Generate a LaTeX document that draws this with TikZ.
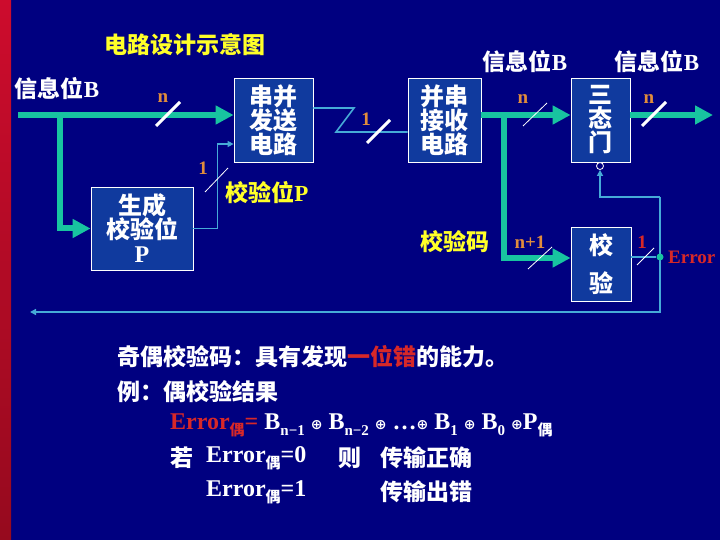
\documentclass[tikz,border=0pt]{standalone}
\usepackage{fontspec}
\setmainfont{Noto Sans CJK SC}
\newfontfamily\cjkf{Noto Sans CJK SC}
\newfontfamily\lat{Liberation Serif}
\newfontfamily\symf{DejaVu Sans}
\usetikzlibrary{arrows.meta,calc}
\definecolor{navy}{RGB}{0,0,128}
\definecolor{boxblue}{RGB}{16,58,158}
\definecolor{gline}{RGB}{24,196,160}
\definecolor{tcol}{RGB}{70,170,215}
\definecolor{orangelbl}{RGB}{225,140,60}
\definecolor{yel}{RGB}{255,255,40}
\definecolor{errred}{RGB}{215,40,40}
\definecolor{stripeTop}{RGB}{205,12,45}
\definecolor{stripeBot}{RGB}{150,10,30}
\newcommand\mysub[1]{\raisebox{-6pt}{\fontsize{15}{15}\selectfont #1}}
\newcommand\myop{{\symf\fontsize{14}{14}\selectfont ⊕}}
\begin{document}
\begin{tikzpicture}[x=1pt,y=-1pt,
  garrow/.style={draw=gline, line width=6pt, line join=miter, -{Triangle[length=18pt,width=18pt]}},
  tline/.style={draw=tcol, line width=1.6pt},
  tarrow/.style={tline, -{Triangle[length=6pt,width=6pt]}},
  slashthick/.style={draw=white, line width=3pt},
  slashthin/.style={draw=white, line width=0.8pt},
  blk/.style={draw=white, line width=0.8pt, fill=boxblue, text=white, align=center, inner sep=0pt, font=\fontsize{24}{24}\selectfont\bfseries},
  wtxt/.style={text=white, inner sep=0pt, font=\fontsize{23}{23}\selectfont\bfseries},
  ytxt/.style={text=yel, inner sep=0pt, font=\fontsize{23}{23}\selectfont\bfseries},
  olbl/.style={text=orangelbl, inner sep=0pt, font=\lat\fontsize{19}{19}\selectfont\bfseries},
  rlbl/.style={text=errred, inner sep=0pt, font=\lat\fontsize{19}{19}\selectfont\bfseries}
]
\useasboundingbox (0,0) rectangle (720,540);
\fill[navy] (0,0) rectangle (720,540);
\shade[top color=stripeTop, bottom color=stripeBot] (0,0) rectangle (11,540);

% boxes
\node[blk, minimum width=79pt, minimum height=84pt] (sbox) at (273.5,120) {串并\\发送\\电路};
\node[blk, minimum width=102pt, minimum height=83pt] (gbox) at (142,228.5) {生成\\校验位\\{\lat P}};
\node[blk, minimum width=73pt, minimum height=84pt] (rbox) at (444.5,120) {并串\\接收\\电路};
\node[blk, minimum width=59pt, minimum height=84pt] (tbox) at (600.5,120) {三\\态\\门};
\node[blk, minimum width=60pt, minimum height=74pt, font=\fontsize{24}{38}\selectfont\bfseries] (cbox) at (601,264) {校\\验};
\node[circle, draw=white, fill=navy, line width=0.8pt, minimum size=7pt, inner sep=0pt] (circ) at (600,166) {};

% titles and labels
\node[ytxt] (title) at (185,45) {电路设计示意图};
\node[wtxt] (inB) at (57,89) {信息位{\lat B}};
\node[wtxt] (outB1) at (525,62) {信息位{\lat B}};
\node[wtxt] (outB2) at (657,62) {信息位{\lat B}};
\node[ytxt] (chkP) at (267,193) {校验位{\lat P}};
\node[ytxt] (chkC) at (455,242) {校验码};

% main green arrows
\coordinate (start) at (18,115);
\coordinate (br1) at (60,115);
\draw[garrow] (start) -- (sbox.west |- start);
\draw[garrow] (br1) |- (gbox.west);
\coordinate (rout) at ($(rbox.east)+(0,-5)$);
\coordinate (br2) at (504,115);
\draw[garrow] (rout) -- (tbox.west |- rout);
\draw[garrow] (br2) |- ($(cbox.west)+(0,-6)$);
\coordinate (outEnd) at (713,115);
\draw[garrow] ($(tbox.east)+(0,-5)$) -- (outEnd);

% thin connectors
\draw[tarrow] (gbox.east) -- ++(24,0) |- ($(sbox.west)+(0,24)$);
\coordinate (z1) at (354,108);
\coordinate (z2) at (336,132);
\draw[tline] ($(sbox.east)+(0,-12)$) -- (z1) -- (z2) -- ($(rbox.west)+(0,12)$);

\coordinate (fbT) at (660,197);
\coordinate (fbB) at (660,312);
\coordinate (fbL) at (30,312);
\draw[tarrow] (fbT) -| (circ.south);
\draw[tarrow] (fbT) -- (fbB) -- (fbL);
\node[circle, fill=gline, minimum size=7pt, inner sep=0pt] (dot) at (660,257) {};
\draw[tline] ($(cbox.east)+(0,-7)$) -- (dot);

% bus width labels and slashes
\node[olbl] (n1) at (163,98) {n};
\draw[slashthick] (156,126) -- (180,102);
\node[olbl] (one1) at (203,168) {1};
\draw[slashthin] (205,192) -- (228,168);
\node[olbl] (one2) at (366,119) {1};
\draw[slashthick] (367,143) -- (390,120);
\node[olbl] (n2) at (523,99) {n};
\draw[slashthin] (523,126) -- (547,103);
\node[olbl] (n3) at (649,99) {n};
\draw[slashthick] (642,126) -- (666,102);
\node[olbl] (n4) at (530,242) {n+1};
\draw[slashthin] (528,269) -- (552,247);
\node[rlbl] (one3) at (642,242) {1};
\draw[slashthin] (637,265) -- (654,248);
\node[rlbl, anchor=west] (err) at (668,257) {Error};

% bottom text
\node[wtxt, anchor=west] (t1) at (117,357) {奇偶校验码：具有发现\textcolor{errred}{一位错}的能力。};
\node[wtxt, anchor=west] (t2) at (117,392) {例：偶校验结果};
\node[wtxt, anchor=west, font=\lat\fontsize{24}{24}\selectfont\bfseries] (t3) at (170,425)
  {\textcolor{errred}{Error\mysub{\cjkf 偶}=} B\mysub{n−1} \myop{} B\mysub{n−2} \myop{} …\myop{} B\mysub{1} \myop{} B\mysub{0} \myop{}P\mysub{\cjkf 偶}};
\node[wtxt, anchor=west] (t4a) at (170,458) {若};
\node[wtxt, anchor=west, font=\lat\fontsize{24}{24}\selectfont\bfseries] (t4b) at (206,458) {Error\mysub{\cjkf 偶}=0};
\node[wtxt, anchor=west] (t4c) at (338,458) {则};
\node[wtxt, anchor=west] (t4d) at (380,458) {传输正确};
\node[wtxt, anchor=west, font=\lat\fontsize{24}{24}\selectfont\bfseries] (t5a) at (206,492) {Error\mysub{\cjkf 偶}=1};
\node[wtxt, anchor=west] (t5b) at (380,492) {传输出错};
\end{tikzpicture}
\end{document}
